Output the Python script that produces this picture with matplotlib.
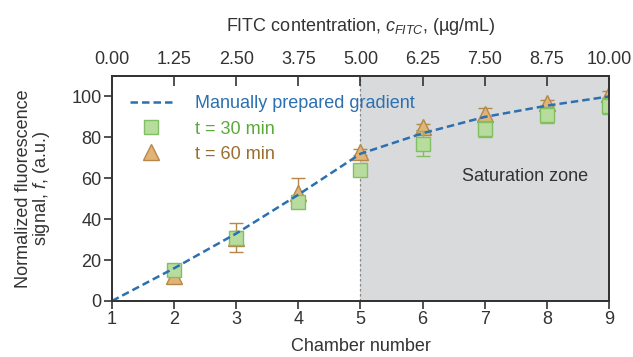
import matplotlib
matplotlib.use('Agg')
import matplotlib.pyplot as plt
from matplotlib.lines import Line2D

plt.rcParams['font.family'] = ['Liberation Sans', 'DejaVu Sans']
plt.rcParams['mathtext.fontset'] = 'custom'
plt.rcParams['mathtext.it'] = 'Liberation Sans:italic'
plt.rcParams['mathtext.rm'] = 'Liberation Sans'

# data
chamber = [1, 2, 3, 4, 5, 6, 7, 8, 9]
gradient = [0, 16, 33, 52, 72, 82, 90, 95.5, 100]
ch_meas = [2, 3, 4, 5, 6, 7, 8, 9]
f30 = [15, 31, 48.5, 64, 77, 84, 91, 95.5]
f30_err = [3, 3, 2, 2, 6, 4, 4, 4]
f60 = [12, 31, 53, 73, 85, 91.5, 97, 101]
f60_err = [2.5, 7, 7, 1.5, 1.5, 3, 1.5, 1.5]
fitc_ticks = ['0.00', '1.25', '2.50', '3.75', '5.00', '6.25', '7.50', '8.75', '10.00']

blue = '#2b70b0'
green_face = '#b7dc9e'
green_edge = '#80c060'
tan_face = '#e2b376'
tan_edge = '#b5884a'
dark = '#333333'
fs = 13

fig = plt.figure(figsize=(6.33, 3.57), dpi=100)
ax = fig.add_axes([0.177, 0.157, 0.785, 0.630])

ax.axvspan(5, 9, color='#d9dadb', zorder=0, lw=0)
ax.axvline(5, color='#888888', ls=(0, (2, 2)), lw=0.9, zorder=1)

ax.errorbar(ch_meas, f30, yerr=f30_err, fmt='s', ms=10, mfc=green_face, mec=green_edge,
            ecolor=green_edge, elinewidth=1, capsize=5, capthick=1, zorder=3)
ax.errorbar(ch_meas, f60, yerr=f60_err, fmt='^', ms=11, mfc=tan_face, mec=tan_edge,
            ecolor=tan_edge, elinewidth=1, capsize=5, capthick=1, zorder=2)
ax.plot(chamber, gradient, ls=(0, (3, 1.6)), color=blue, lw=1.8, zorder=4)

ax.text(7.65, 61, 'Saturation zone', fontsize=fs, color='#333333', ha='center', va='center')

ax.set_xlim(1, 9)
ax.set_ylim(0, 110)
ax.set_xticks(chamber)
ax.set_yticks([0, 20, 40, 60, 80, 100])
ax.tick_params(direction='out', length=5.5, width=1.2, colors=dark, labelsize=fs, pad=2)
for s in ax.spines.values():
    s.set_color(dark)
    s.set_linewidth(1.3)

ax.set_xlabel('Chamber number', fontsize=fs, color=dark, labelpad=7)
ax.set_ylabel('Normalized fluorescence\nsignal, $f$, (a.u.)', fontsize=fs, color=dark,
              labelpad=14, linespacing=0.95)

top = ax.twiny()
top.set_xlim(1, 9)
top.set_xticks(chamber)
top.set_xticklabels(fitc_ticks)
top.tick_params(direction='in', length=7, width=1.2, colors=dark, labelsize=fs, pad=6)
top.set_xlabel('FITC contentration, $c_{FITC}$, (µg/mL)', fontsize=fs, color=dark, labelpad=14)
for s in top.spines.values():
    s.set_color(dark)
    s.set_linewidth(1.3)

handles = [
    Line2D([], [], ls=(0, (3, 1.6)), color=blue, lw=1.8),
    Line2D([], [], ls='none', marker='s', ms=10, mfc=green_face, mec=green_edge),
    Line2D([], [], ls='none', marker='^', ms=11, mfc=tan_face, mec=tan_edge),
]
labels = ['Manually prepared gradient', 't = 30 min', 't = 60 min']
leg = ax.legend(handles, labels, loc='upper left', bbox_to_anchor=(0.01, 0.97),
                frameon=False, fontsize=fs, handlelength=2.4, handletextpad=1.2,
                labelspacing=0.45, borderaxespad=0.3)
for txt, col in zip(leg.get_texts(), [blue, '#5aaa3a', '#9a6e2e']):
    txt.set_color(col)

fig.savefig('out.png', dpi=100)
